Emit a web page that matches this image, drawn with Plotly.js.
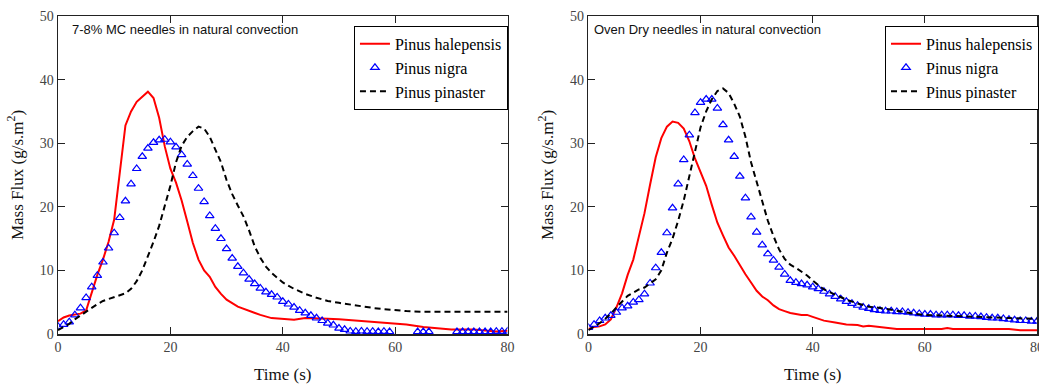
<!DOCTYPE html>
<html>
<head>
<meta charset="utf-8">
<script src="https://cdn.plot.ly/plotly-3.0.1.min.js"></script>
<style>html,body{margin:0;padding:0;background:#fff;}#chart{width:1039px;height:387px;}</style>
</head>
<body>
<div id="chart"></div>
<script>
// ---- Data ----
var seriesNames = ["Pinus halepensis", "Pinus nigra", "Pinus pinaster"];
var panelTitles = ["7-8% MC needles in natural convection", "Oven Dry needles in natural convection"];
var xTicks = [0, 20, 40, 60, 80];
var yTicks = [0, 10, 20, 30, 40, 50];

// Left panel: 7-8% MC
var leftHaleT = [0,1,2,3,4,5,6,7,8,9,10,11,12,13,14,15,16,17,18,19,20,21,22,23,24,25,26,27,28,29,30,32,34,36,38,40,42,44,46,48,50,52,55,58,60,62,65,68,70,74,78,80];
var leftHaleV = [2.0,2.6,2.9,3.0,3.2,3.7,6.5,9.3,11.7,14.5,18.0,25.0,32.8,35.0,36.5,37.3,38.1,37.1,34.0,29.5,26.0,23.8,21.0,17.7,14.3,11.7,10.0,9.0,7.4,6.3,5.4,4.3,3.6,3.0,2.5,2.4,2.25,2.5,2.5,2.4,2.3,2.15,2.0,1.8,1.6,1.5,1.1,0.8,0.7,0.7,0.4,0.5];

var leftNigraT = [0,1,2,3,4,5,6,7,8,9,10,11,12,13,14,15,16,17,18,19,20,21,22,23,24,25,26,27,28,29,30,31,32,33,34,35,36,37,38,39,40,41,42,43,44,45,46,47,48,49,50,51,52,53,54,55,56,57,58,59,60,61,62,63,64,65,66,67,68,69,70,71,72,73,74,75,76,77,78,79,80];
var leftNigraV = [1.2,1.5,1.9,3.0,4.1,5.7,7.4,9.2,11.3,13.5,15.9,18.3,20.9,23.6,26.0,27.9,29.2,30.1,30.5,30.6,30.2,29.4,28.2,26.7,24.9,22.9,20.8,18.6,16.6,15.0,13.4,11.9,10.6,9.6,8.6,7.9,7.2,6.6,6.2,5.8,5.1,4.7,4.2,3.7,3.3,2.9,2.5,2.1,1.7,1.4,0.9,0.7,0.45,0.4,0.45,0.4,0.4,0.35,0.4,0.35,null,null,null,null,0.35,0.35,0.35,null,null,null,null,0.35,0.35,0.35,0.35,0.35,0.35,0.35,0.4,0.4,0.45];

var leftPinaT = [0,1,2,3,4,5,6,7,8,9,10,11,12,13,14,15,16,17,18,19,20,21,22,23,24,25,26,27,28,29,30,31,32,33,34,35,36,37,38,39,40,42,44,46,48,50,52,54,56,58,60,62,65,70,75,80];
var leftPinaV = [0.6,1.1,1.6,2.3,2.9,3.5,4.2,4.7,5.2,5.5,5.8,6.1,6.4,7.1,8.3,10.0,12.2,14.5,17.0,20.0,23.3,27.0,29.6,31.0,31.9,32.6,32.3,31.0,29.0,27.0,24.2,22.0,20.2,18.5,16.3,13.8,12.0,10.6,9.6,8.8,8.1,7.1,6.3,5.7,5.2,4.9,4.6,4.3,4.1,3.9,3.7,3.6,3.5,3.5,3.5,3.5];

// Right panel: Oven Dry
var rightHaleT = [0,1,2,3,4,5,6,7,8,9,10,11,12,13,14,15,16,17,18,19,20,21,22,23,24,25,26,27,28,29,30,31,32,33,34,35,36,38,39,40,42,44,46,48,49,50,52,55,60,63,64,65,70,75,77,80];
var rightHaleV = [0.8,1.1,1.2,1.5,2.3,4.2,6.4,9.3,11.7,15.2,19.0,23.5,27.8,30.8,32.6,33.4,33.2,32.3,30.3,27.6,25.5,23.3,20.3,17.5,15.5,13.6,12.3,10.8,9.4,8.1,6.8,5.9,5.3,4.5,3.9,3.6,3.3,3.0,3.0,2.7,2.1,1.8,1.5,1.4,1.2,1.3,1.1,0.8,0.8,0.8,0.95,0.8,0.8,0.8,0.6,0.6];

var rightNigraT = leftNigraT;
var rightNigraV = [1.0,1.5,2.1,2.5,2.9,3.4,4.1,4.4,5.0,5.4,6.3,8.0,10.4,12.8,15.9,19.8,23.6,27.4,31.3,34.8,36.4,36.9,36.9,35.5,32.9,30.5,27.9,24.8,21.4,18.4,16.0,14.0,12.6,11.6,10.5,9.4,8.4,8.1,7.9,7.7,7.4,7.1,6.7,6.3,5.9,5.5,5.1,4.8,4.5,4.2,4.0,3.8,3.7,3.6,3.6,3.5,3.5,3.4,3.3,3.2,3.1,3.1,3.0,3.0,3.0,3.0,2.9,2.9,2.8,2.8,2.7,2.6,2.5,2.5,2.4,2.3,2.2,2.1,2.1,2.0,2.0];

var rightPinaT = [0,1,2,3,4,5,6,7,8,9,10,11,12,13,14,15,16,17,18,19,20,21,22,23,24,25,26,27,28,29,30,31,32,33,34,35,36,37,38,39,40,42,44,46,48,50,52,55,58,60,65,70,75,80];
var rightPinaV = [0.6,1.1,1.7,2.4,3.2,4.2,5.1,6.0,6.5,7.0,7.3,7.9,8.6,10.0,12.8,15.0,17.8,21.0,24.8,28.5,32.5,35.0,36.9,38.2,38.6,37.9,36.2,34.2,31.0,27.0,23.8,20.8,17.8,15.4,13.3,11.8,10.9,10.4,9.8,9.2,8.4,7.0,6.2,5.4,4.8,4.3,4.1,3.6,3.2,3.0,2.8,2.7,2.5,2.4];

// ---- Styles ----
var serif = "Times New Roman, Liberation Serif, serif";
var sans = "Arial, Liberation Sans, sans-serif";
var redLine = {color: "#ff0000", width: 2};
var blackLine = {color: "#000000", width: 2, dash: "6px,4px"};
var blueMarker = {symbol: "triangle-up-open", size: 7.5, color: "#0000ff", line: {color: "#0000ff", width: 1.2}};

function traces(tH, vH, tN, vN, tP, vP, xa, ya, lg) {
  return [
    {x: tH, y: vH, type: "scatter", mode: "lines", name: seriesNames[0], line: redLine, xaxis: xa, yaxis: ya, legend: lg},
    {x: tN, y: vN, type: "scatter", mode: "markers", name: seriesNames[1], marker: blueMarker, xaxis: xa, yaxis: ya, legend: lg},
    {x: tP, y: vP, type: "scatter", mode: "lines", name: seriesNames[2], line: blackLine, xaxis: xa, yaxis: ya, legend: lg}
  ];
}

var data = [].concat(
  traces(leftHaleT, leftHaleV, leftNigraT, leftNigraV, leftPinaT, leftPinaV, "x", "y", "legend"),
  traces(rightHaleT, rightHaleV, rightNigraT, rightNigraV, rightPinaT, rightPinaV, "x2", "y2", "legend2")
);

function xAxis(domain, anchor) {
  return {
    domain: domain, anchor: anchor, range: [0, 80], tickvals: xTicks, ticks: "inside", ticklen: 7, tickwidth: 1.2,
    tickcolor: "#222", mirror: "ticks", showline: true, linecolor: "#222", linewidth: 1.5,
    showgrid: false, zeroline: false, tickfont: {family: serif, size: 14, color: "#444"},
    ticklabeloverflow: "allow",
    title: {text: "Time (s)", font: {family: serif, size: 17, color: "#111"}, standoff: 14}, automargin: false
  };
}
function yAxis(anchor) {
  return {
    domain: [0, 1], anchor: anchor, range: [0, 50], tickvals: yTicks, ticks: "inside", ticklen: 7, tickwidth: 1.2,
    tickcolor: "#222", mirror: "ticks", showline: true, linecolor: "#222", linewidth: 1.5,
    showgrid: false, zeroline: false, tickfont: {family: serif, size: 14, color: "#444"},
    title: {text: "Mass Flux (g/s.m<sup>2</sup>)", font: {family: serif, size: 17, color: "#111"}, standoff: 12}, automargin: false
  };
}

var legendStyle = {
  y: 0.969, xanchor: "left", yanchor: "top", bgcolor: "#ffffff", bordercolor: "#000", borderwidth: 1,
  font: {family: serif, size: 16, color: "#000"}, tracegroupgap: 0, itemwidth: 30
};

var layout = {
  width: 1039, height: 387,
  margin: {l: 58, r: 1, t: 16, b: 53},
  paper_bgcolor: "#fff", plot_bgcolor: "#fff",
  showlegend: true,
  xaxis: xAxis([0, 0.4592], "y"),
  yaxis: yAxis("x"),
  xaxis2: xAxis([0.5418, 1.0], "y2"),
  yaxis2: yAxis("x2"),
  legend: Object.assign({x: 0.302}, legendStyle),
  legend2: Object.assign({x: 0.8439}, legendStyle),
  annotations: [
    {text: panelTitles[0], xref: "x domain", yref: "y domain", x: 0.027, y: 0.959, xanchor: "left", yanchor: "middle", showarrow: false, font: {family: sans, size: 13, color: "#111"}},
    {text: panelTitles[1], xref: "x2 domain", yref: "y2 domain", x: 0.009, y: 0.959, xanchor: "left", yanchor: "middle", showarrow: false, font: {family: sans, size: 13, color: "#111"}}
  ]
};

Plotly.newPlot("chart", data, layout, {staticPlot: true, displayModeBar: false});
</script>
</body>
</html>
